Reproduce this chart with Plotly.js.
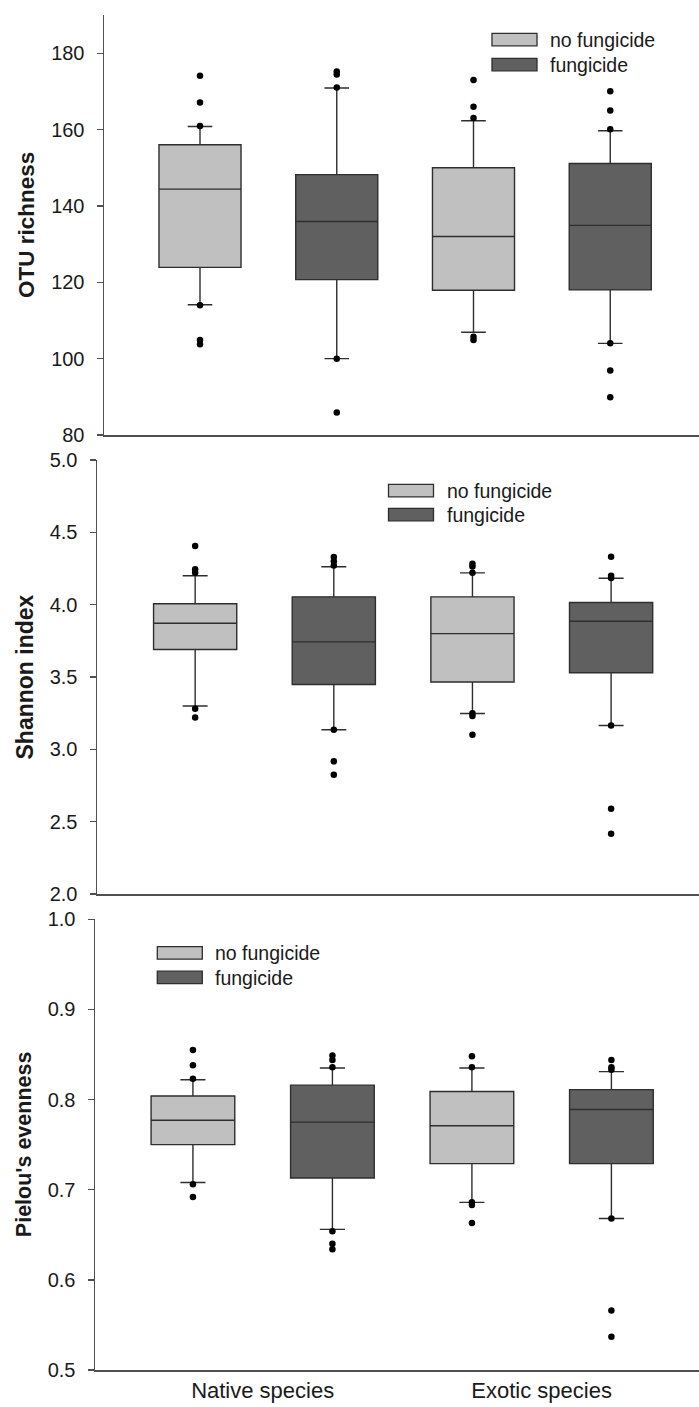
<!DOCTYPE html>
<html>
<head>
<meta charset="utf-8">
<script src="https://cdn.plot.ly/plotly-3.0.1.min.js"></script>
<style>
  html, body { margin: 0; padding: 0; background: #ffffff; }
  #chart { width: 699px; height: 1407px; }
</style>
</head>
<body>
<div id="chart"></div>
<script>
// Groups along the x axis and the two treatments
const categories = ['Native species', 'Exotic species'];
const treatments = ['no fungicide', 'fungicide'];

// Box summaries per category: [lower whisker, Q1, median, Q3, upper whisker]
// OTU richness
const otuNoFung = [[114.1, 123.9, 144.4, 156.0, 160.8], [106.9, 117.9, 132.0, 150.0, 162.3]];
const otuFung   = [[100.0, 120.7, 135.9, 148.2, 170.9], [104.0, 118.0, 134.9, 151.1, 159.7]];
const otuNoFungOut = [[174.1, 167.1, 160.9, 114.0, 104.9, 103.8], [173.0, 166.0, 163.0, 105.7, 104.9]];
const otuFungOut   = [[175.2, 174.4, 171.0, 100.0, 85.9], [170.0, 165.0, 160.1, 104.0, 96.9, 89.9]];

// Shannon index
const shanNoFung = [[3.300, 3.690, 3.872, 4.006, 4.200], [3.248, 3.465, 3.800, 4.054, 4.220]];
const shanFung   = [[3.135, 3.448, 3.743, 4.054, 4.262], [3.165, 3.529, 3.885, 4.015, 4.183]];
const shanNoFungOut = [[4.405, 4.245, 4.220, 3.280, 3.220], [4.282, 4.263, 4.220, 3.250, 3.230, 3.100]];
const shanFungOut   = [[4.330, 4.300, 4.270, 3.135, 2.917, 2.825], [4.332, 4.200, 4.185, 3.165, 2.590, 2.417]];

// Pielou's evenness
const pielNoFung = [[0.708, 0.750, 0.777, 0.804, 0.822], [0.686, 0.729, 0.771, 0.809, 0.835]];
const pielFung   = [[0.656, 0.713, 0.775, 0.816, 0.835], [0.668, 0.729, 0.789, 0.811, 0.831]];
const pielNoFungOut = [[0.855, 0.838, 0.823, 0.706, 0.692], [0.848, 0.836, 0.686, 0.683, 0.663]];
const pielFungOut   = [[0.849, 0.844, 0.836, 0.654, 0.640, 0.634], [0.844, 0.836, 0.833, 0.668, 0.566, 0.537]];

// ---------- drawing ----------
const W = 699, H = 1407;
const FONT = 'Liberation Sans, Arial, sans-serif';
const INK = '#1a1a1a';
const EDGE = '#2e2e2e';
const AXIS = '#505050';
const fills = ['#c0c0c0', '#606060'];
const groupOffset = [-0.25, 0.25];   // position of each treatment within a category
const boxWidth = 0.3;

const px = x => x / W;          // pixel -> paper x
const py = y => 1 - y / H;      // pixel -> paper y

const panels = [
  { title: 'OTU richness', titleSize: 22.5, titleX: 26,
    box: [otuNoFung, otuFung], out: [otuNoFungOut, otuFungOut],
    left: 104, top: 15, bottom: 435, xr: [-0.601, 1.5745],
    yr: [80, 190], tick0: 80, dtick: 20, fmt: 'd',
    legend: { x: 492, y: 33.3, step: 25 } },
  { title: 'Shannon index', titleSize: 23, titleX: 24.5,
    box: [shanNoFung, shanFung], out: [shanNoFungOut, shanFungOut],
    left: 97, top: 460, bottom: 894, xr: [-0.604, 1.567],
    yr: [2, 5], tick0: 2, dtick: 0.5, fmt: '.1f',
    legend: { x: 388.5, y: 484.3, step: 24 } },
  { title: "Pielou's evenness", titleSize: 21.5, titleX: 23.5,
    box: [pielNoFung, pielFung], out: [pielNoFungOut, pielFungOut],
    left: 95, top: 919.3, bottom: 1370, xr: [-0.601, 1.564],
    yr: [0.5, 1.0], tick0: 0.5, dtick: 0.1, fmt: '.1f',
    legend: { x: 157.3, y: 946.7, step: 24.5 } }
];

const traces = [];
const layout = {
  width: W, height: H,
  margin: { l: 0, r: 0, t: 0, b: 0 },
  paper_bgcolor: '#ffffff', plot_bgcolor: '#ffffff',
  showlegend: false,
  boxmode: 'overlay',
  font: { family: FONT, color: INK },
  shapes: [], annotations: []
};

panels.forEach((p, k) => {
  const sfx = k === 0 ? '' : String(k + 1);
  const xa = 'x' + sfx, ya = 'y' + sfx;

  treatments.forEach((t, j) => {
    const pos = categories.map((c, i) => i + groupOffset[j]);
    const s = p.box[j];
    traces.push({
      type: 'box', name: t, xaxis: xa, yaxis: ya,
      x: pos,
      lowerfence: s.map(v => v[0]),
      q1: s.map(v => v[1]),
      median: s.map(v => v[2]),
      q3: s.map(v => v[3]),
      upperfence: s.map(v => v[4]),
      width: boxWidth, whiskerwidth: 0.3,
      boxpoints: false,
      fillcolor: fills[j],
      line: { color: EDGE, width: 1.4 },
      hoverinfo: 'skip'
    });
    const o = p.out[j];
    traces.push({
      type: 'scatter', mode: 'markers', name: t + ' outliers', xaxis: xa, yaxis: ya,
      x: o.flatMap((arr, i) => arr.map(() => i + groupOffset[j])),
      y: o.flat(),
      marker: { color: '#000000', size: 6.5 },
      hoverinfo: 'skip'
    });

    // legend swatch + label
    const ly = p.legend.y + j * p.legend.step;
    layout.shapes.push({
      type: 'rect', xref: 'paper', yref: 'paper',
      x0: px(p.legend.x), x1: px(p.legend.x + 45),
      y0: py(ly + 12.5), y1: py(ly),
      fillcolor: fills[j], line: { color: EDGE, width: 1.3 }
    });
    layout.annotations.push({
      xref: 'paper', yref: 'paper', showarrow: false,
      x: px(p.legend.x + 56), y: py(ly + 6.5),
      xanchor: 'left', yanchor: 'middle',
      text: t, font: { family: FONT, size: 19.5, color: INK }
    });
  });

  layout['xaxis' + sfx] = {
    domain: [px(p.left), 1], anchor: ya,
    range: p.xr, fixedrange: true,
    showline: true, linecolor: AXIS, linewidth: 1.5,
    showgrid: false, zeroline: false, ticks: '',
    tickvals: k === 2 ? [0, 1] : [],
    ticktext: k === 2 ? categories : [],
    showticklabels: k === 2,
    ticklabelstandoff: 0,
    tickfont: { family: FONT, size: 22, color: INK }
  };
  layout['yaxis' + sfx] = {
    domain: [py(p.bottom), py(p.top)], anchor: xa,
    range: p.yr, fixedrange: true,
    tick0: p.tick0, dtick: p.dtick, tickformat: p.fmt,
    showline: true, linecolor: AXIS, linewidth: 1.5,
    showgrid: false, zeroline: false,
    ticks: 'outside', ticklen: 6, tickwidth: 1.3, tickcolor: AXIS,
    ticklabelstandoff: 8,
    tickfont: { family: FONT, size: 20, color: INK }
  };

  layout.annotations.push({
    xref: 'paper', yref: 'paper', showarrow: false,
    x: px(p.titleX), y: py((p.top + p.bottom) / 2),
    xanchor: 'center', yanchor: 'middle', textangle: -90,
    text: '<b>' + p.title + '</b>',
    font: { family: FONT, size: p.titleSize, color: INK }
  });
});

Plotly.newPlot('chart', traces, layout, { staticPlot: true, displayModeBar: false });
</script>
</body>
</html>
